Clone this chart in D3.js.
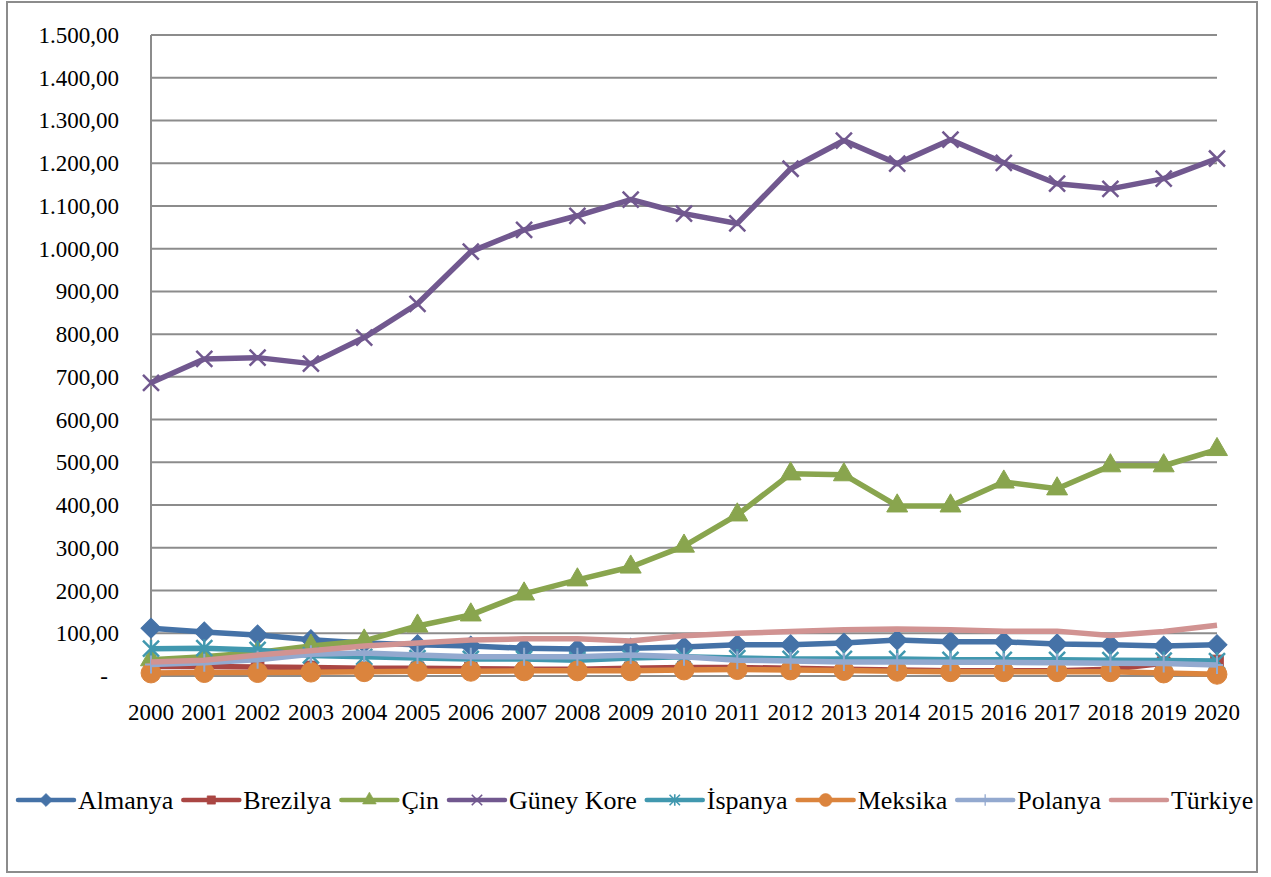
<!DOCTYPE html>
<html>
<head>
<style>
    body { margin: 0; background: #fff; }
    svg text { font-family: "Liberation Serif", "Times New Roman", serif; font-size: 23px; fill: #000; }
    svg .legend text { font-size: 26px; }
</style>
<script src="https://d3js.org/d3.v7.min.js"></script>
</head>
<body>
<svg width="1271" height="877"></svg>
<script>
    // values
    var years = ["2000","2001","2002","2003","2004","2005","2006","2007","2008","2009","2010",
                 "2011","2012","2013","2014","2015","2016","2017","2018","2019","2020"];
    var yTicks = [0, 100, 200, 300, 400, 500, 600, 700, 800, 900, 1000, 1100, 1200, 1300, 1400, 1500];

    var almanya   = [112, 103, 96, 85, 77, 73, 70, 65, 63, 65, 68, 73, 73, 77, 84, 80, 80, 75, 73, 70, 73];
    var brezilya  = [22, 22, 21, 20, 18, 18, 17, 16, 16, 18, 20, 20, 18, 16, 14, 12, 12, 12, 16, 30, 34];
    var cin       = [38, 45, 55, 70, 82, 117, 143, 192, 225, 255, 304, 377, 473, 471, 398, 398, 454, 438, 492, 492, 530];
    var guneyKore = [686, 742, 745, 731, 792, 871, 993, 1044, 1077, 1115, 1082, 1059, 1187, 1253, 1199, 1255, 1201, 1152, 1140, 1164, 1211];
    var ispanya   = [64, 65, 61, 48, 45, 42, 40, 40, 37, 42, 45, 42, 40, 40, 40, 38, 38, 38, 37, 36, 35];
    var meksika   = [7, 8, 8, 9, 10, 11, 11, 12, 12, 12, 14, 15, 14, 13, 11, 10, 10, 10, 10, 7, 4];
    var polanya   = [27, 31, 38, 51, 54, 49, 45, 45, 45, 49, 45, 37, 35, 33, 33, 32, 32, 31, 30, 29, 26];
    var turkiye   = [33, 37, 49, 59, 70, 77, 84, 87, 87, 82, 94, 100, 104, 108, 110, 108, 105, 105, 95, 104, 119];

    var series = [
        { name: "Almanya",    values: almanya,   color: "#4572A7", marker: "diamond" },
        { name: "Brezilya",   values: brezilya,  color: "#AA4643", marker: "square" },
        { name: "Çin",        values: cin,       color: "#89A54E", marker: "triangle" },
        { name: "Güney Kore", values: guneyKore, color: "#71588F", marker: "x" },
        { name: "İspanya",    values: ispanya,   color: "#4198AF", marker: "star" },
        { name: "Meksika",    values: meksika,   color: "#DB843D", marker: "circle" },
        { name: "Polanya",    values: polanya,   color: "#93A9CF", marker: "plus" },
        { name: "Türkiye",    values: turkiye,   color: "#D19392", marker: "none" }
    ];

    var svg = d3.select("svg");

    // outer frame
    svg.append("rect")
        .attr("x", 7).attr("y", 2)
        .attr("width", 1250).attr("height", 870)
        .attr("fill", "#fff")
        .attr("stroke", "#8c8c8c")
        .attr("stroke-width", 2);

    var xScale = d3.scalePoint()
        .domain(years)
        .range([151, 1217]);

    var yScale = d3.scaleLinear()
        .domain([0, 1500])
        .range([676, 35]);

    // gridlines
    svg.append("g").selectAll("line")
        .data(yTicks)
        .enter()
        .append("line")
        .attr("x1", 151).attr("x2", 1217)
        .attr("y1", function (d) { return yScale(d); })
        .attr("y2", function (d) { return yScale(d); })
        .attr("stroke", "#8c8c8c")
        .attr("stroke-width", 2);

    // y axis line
    svg.append("line")
        .attr("x1", 151).attr("x2", 151)
        .attr("y1", yScale(1500)).attr("y2", yScale(0))
        .attr("stroke", "#8c8c8c")
        .attr("stroke-width", 2);

    // y labels (Turkish number format)
    var fmt = function (d) {
        if (d === 0) return "-";
        return d3.format(",.2f")(d).replace(/,/g, "#").replace(".", ",").replace(/#/g, ".");
    };
    svg.append("g").selectAll("text")
        .data(yTicks)
        .enter()
        .append("text")
        .attr("x", function (d) { return d === 0 ? 108 : 119; })
        .attr("y", function (d) { return yScale(d) + 8; })
        .attr("text-anchor", "end")
        .text(fmt);

    // x labels
    svg.append("g").selectAll("text")
        .data(years)
        .enter()
        .append("text")
        .attr("x", function (d) { return xScale(d); })
        .attr("y", 720)
        .attr("text-anchor", "middle")
        .text(function (d) { return d; });

    // marker shapes
    function markerPath(type) {
        if (type === "diamond") return d3.symbol(d3.symbolSquare, 200)();
        if (type === "square") return d3.symbol(d3.symbolSquare, 160)();
        if (type === "triangle") return d3.symbol(d3.symbolTriangle, 190)();
        if (type === "circle") return d3.symbol(d3.symbolCircle, 310)();
        if (type === "x") return "M-8,-8L8,8M-8,8L8,-8";
        if (type === "star") return "M-8,-8L8,8M-8,8L8,-8M0,-9L0,9";
        if (type === "plus") return "M0,-9L0,9M-6,0L6,0";
        return null;
    }
    function drawMarker(g, type, color, x, y, k) {
        var p = markerPath(type);
        if (!p) return;
        var m = g.append("path")
            .attr("d", p)
            .attr("transform", "translate(" + x + "," + y + ") scale(" + k + ")" + (type === "diamond" ? " rotate(45)" : ""));
        if (type === "x" || type === "star" || type === "plus") {
            m.attr("fill", "none").attr("stroke", color).attr("stroke-width", type === "plus" ? 2 : 2.5);
        } else {
            m.attr("fill", color).attr("stroke", color).attr("stroke-width", 1);
        }
    }

    var line = d3.line()
        .x(function (d, i) { return xScale(years[i]); })
        .y(function (d) { return yScale(d); });

    series.forEach(function (s) {
        var g = svg.append("g");
        g.append("path")
            .attr("d", line(s.values))
            .attr("fill", "none")
            .attr("stroke", s.color)
            .attr("stroke-width", 5.5)
            .attr("stroke-linejoin", "round");
        s.values.forEach(function (v, i) {
            drawMarker(g, s.marker, s.color, xScale(years[i]), yScale(v), 1);
        });
    });

    // legend
    var legend = svg.append("g").attr("class", "legend");
    var lx = 18, ly = 800;
    series.forEach(function (s) {
        var item = legend.append("g");
        item.append("line")
            .attr("x1", lx).attr("x2", lx + 56)
            .attr("y1", ly).attr("y2", ly)
            .attr("stroke", s.color)
            .attr("stroke-width", 4.5)
            .attr("stroke-linecap", "round");
        drawMarker(item, s.marker, s.color, lx + 28, ly, 0.65);
        var t = item.append("text")
            .attr("x", lx + 60)
            .attr("y", ly + 9)
            .text(s.name);
        lx += 60 + t.node().getComputedTextLength() + 10;
    });
</script>
</body>
</html>
